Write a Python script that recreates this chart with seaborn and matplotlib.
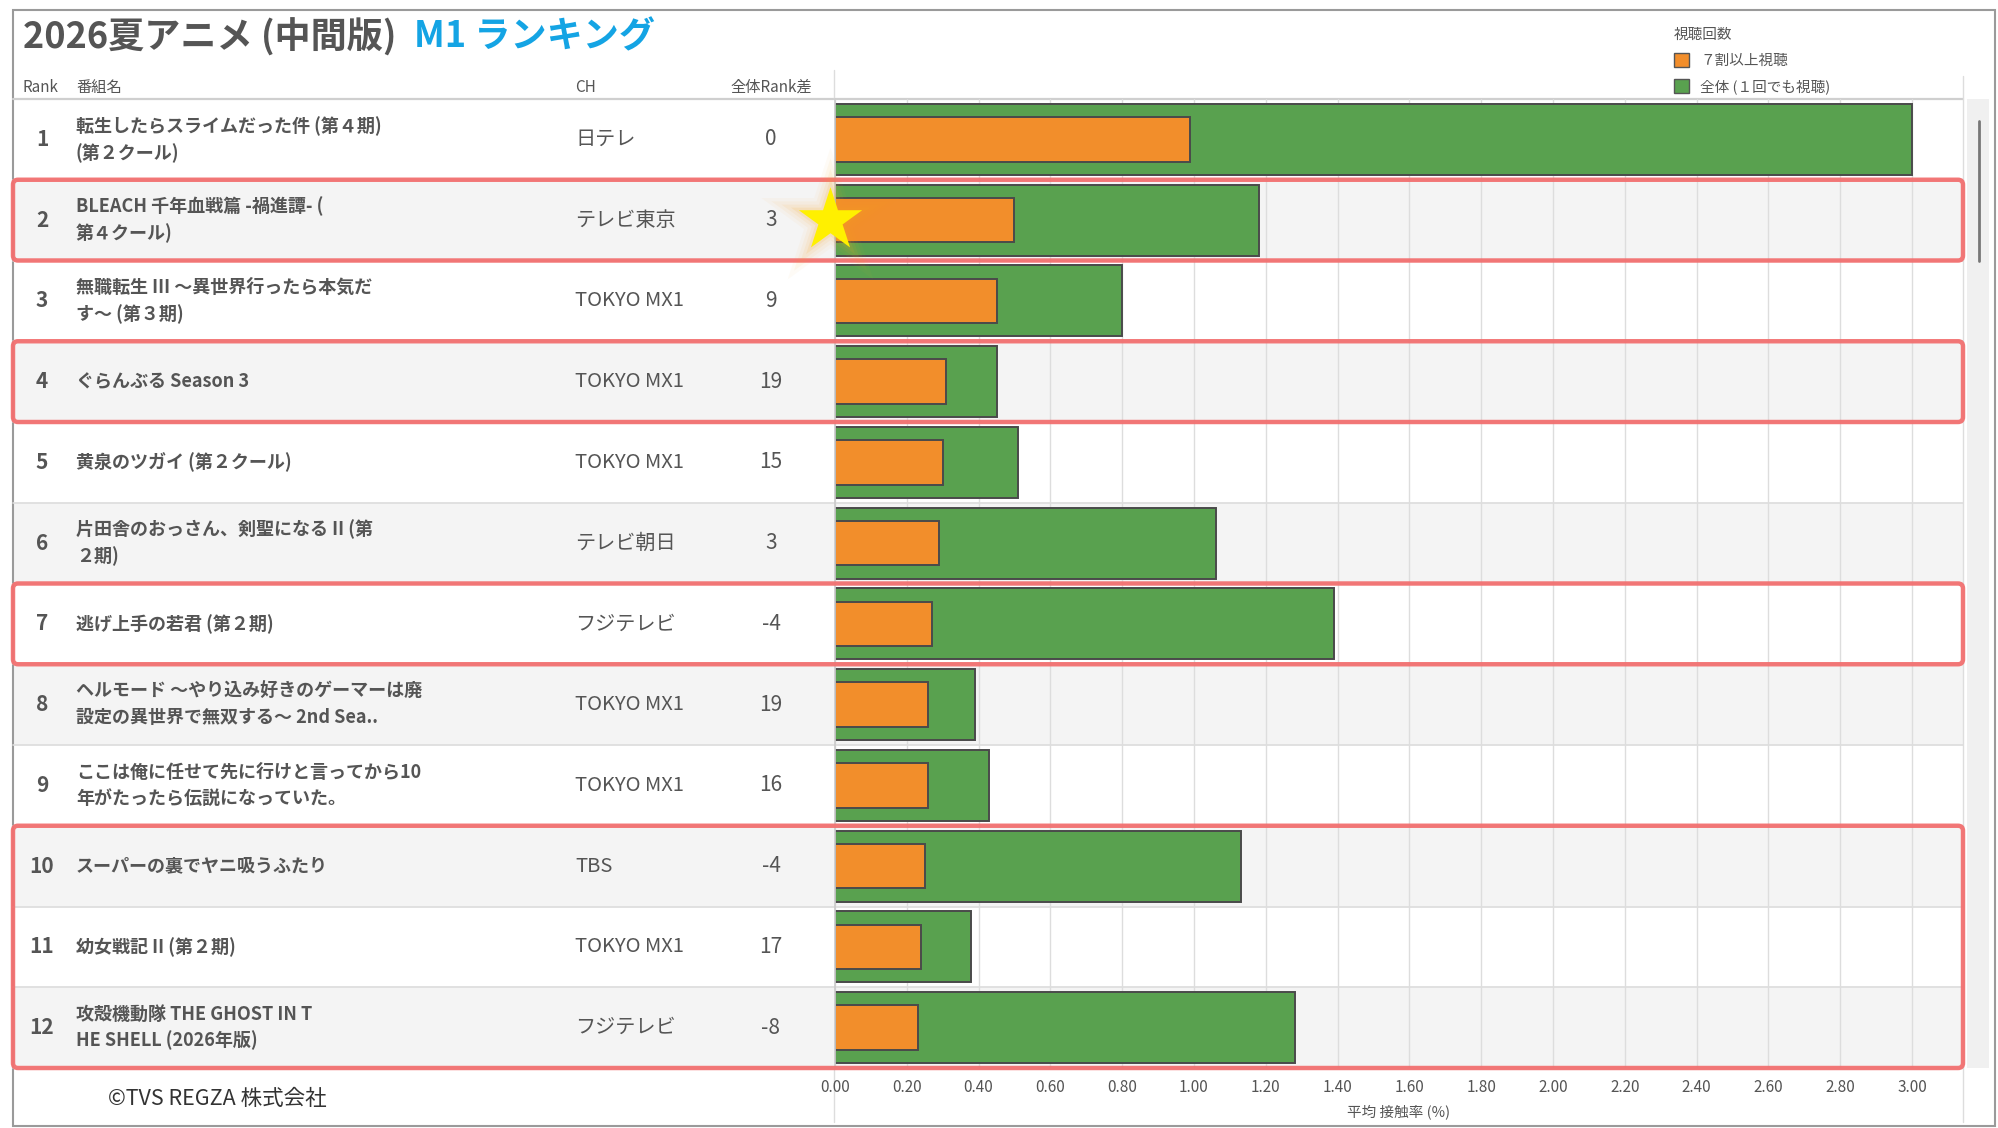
import numpy as np
import pandas as pd
import matplotlib
matplotlib.use("Agg")
import matplotlib.pyplot as plt
import seaborn as sns
from matplotlib.patches import Rectangle, FancyBboxPatch, Patch

# data
ranks = [1, 2, 3, 4, 5, 6, 7, 8, 9, 10, 11, 12]
titles = [
    "転生したらスライムだった件 (第４期)\n(第２クール)",
    "BLEACH 千年血戦篇 -禍進譚- (\n第４クール)",
    "無職転生 III ～異世界行ったら本気だ\nす～ (第３期)",
    "ぐらんぶる Season 3",
    "黄泉のツガイ (第２クール)",
    "片田舎のおっさん、剣聖になる II (第\n２期)",
    "逃げ上手の若君 (第２期)",
    "ヘルモード ～やり込み好きのゲーマーは廃\n設定の異世界で無双する～ 2nd Sea..",
    "ここは俺に任せて先に行けと言ってから10\n年がたったら伝説になっていた。",
    "スーパーの裏でヤニ吸うふたり",
    "幼女戦記 II (第２期)",
    "攻殻機動隊 THE GHOST IN T\nHE SHELL (2026年版)",
]
channels = ["日テレ", "テレビ東京", "TOKYO MX1", "TOKYO MX1", "TOKYO MX1", "テレビ朝日",
            "フジテレビ", "TOKYO MX1", "TOKYO MX1", "TBS", "TOKYO MX1", "フジテレビ"]
rank_diff = [0, 3, 9, 19, 15, 3, -4, 19, 16, -4, 17, -8]
total_rate = [3.00, 1.18, 0.80, 0.45, 0.51, 1.06, 1.39, 0.39, 0.43, 1.13, 0.38, 1.28]
heavy_rate = [0.99, 0.50, 0.45, 0.31, 0.30, 0.29, 0.27, 0.26, 0.26, 0.25, 0.24, 0.23]
highlight_groups = [(2, 2), (4, 4), (7, 7), (10, 12)]
star_rank = 2
x_ticks = [0.0, 0.2, 0.4, 0.6, 0.8, 1.0, 1.2, 1.4, 1.6, 1.8, 2.0, 2.2, 2.4, 2.6, 2.8, 3.0]

df = pd.DataFrame({"rank": [str(r) for r in ranks], "total": total_rate, "heavy": heavy_rate})
order = [str(r) for r in ranks]

sns.set_theme(style="white")
plt.rcParams["font.family"] = ["Noto Sans CJK JP", "DejaVu Sans"]

W, H = 1999, 1128
fig = plt.figure(figsize=(W / 100, H / 100), dpi=100)
fig.patch.set_facecolor("white")

ORANGE = "#F28E2B"
GREEN = "#59A14F"
GRAY_TXT = "#555555"
RED = "#F27070"

# layout in pixels
left, right = 13, 1963
bar_x0 = 835
x_unit = (1912 - 835) / 3.0
row_top, row_h = 99, 80.75
n = len(ranks)
row_bot = row_top + n * row_h

# background layer
bg = fig.add_axes([0, 0, 1, 1], zorder=0)
bg.set_xlim(0, W)
bg.set_ylim(H, 0)
bg.axis("off")
for i in range(n):
    y0 = row_top + i * row_h
    if ranks[i] % 2 == 0:
        bg.add_patch(Rectangle((left, y0), right - left, row_h, color="#f4f4f4", lw=0))
    bg.plot([left, right], [y0 + row_h, y0 + row_h], color="#dcdcdc", lw=1.2)
bg.plot([left, right], [row_top, row_top], color="#cfcfcf", lw=1.6)
bg.plot([834, 834], [70, row_top], color="#dddddd", lw=1)
bg.plot([834, 834], [row_bot, 1122], color="#dddddd", lw=1)
bg.plot([right, right], [76, 1122], color="#dddddd", lw=1)
bg.add_patch(Rectangle((1967, row_top), 22, row_bot - row_top, color="#f0f0f0", lw=0))
bg.plot([1979, 1979], [121, 261], color="#777777", lw=2)
bg.add_patch(Rectangle((13, 10), 1982, 1116, fill=False, ec="#9a9a9a", lw=1.5))

# bar chart
ax = fig.add_axes([bar_x0 / W, 1 - row_bot / H, (right - bar_x0) / W, (row_bot - row_top) / H], zorder=1)
ax.set_facecolor("none")
sns.barplot(data=df, x="total", y="rank", order=order, orient="h", color=GREEN, saturation=1,
            width=0.88, edgecolor="#4a4a4a", linewidth=1.4, errorbar=None, ax=ax)
sns.barplot(data=df, x="heavy", y="rank", order=order, orient="h", color=ORANGE, saturation=1,
            width=0.55, edgecolor="#4a4a4a", linewidth=1.4, errorbar=None, ax=ax)
ax.set_xlim(0, (right - bar_x0) / x_unit)
ax.set_ylim(n - 0.5, -0.5)
ax.set_xticks(x_ticks)
ax.set_xticklabels([f"{t:.2f}" for t in x_ticks])
ax.set_yticks([])
ax.set_ylabel("")
ax.set_xlabel("平均 接触率 (%)", fontsize=10.5, color="#555555", labelpad=6)
ax.tick_params(axis="x", length=0, labelsize=11, colors="#555555", pad=8)
ax.xaxis.grid(True, color="#dddddd", lw=1)
ax.set_axisbelow(True)
for s in ["top", "right", "bottom"]:
    ax.spines[s].set_visible(False)
ax.spines["left"].set_color("#cccccc")

# overlay layer: table text, highlights, title, legend
top = fig.add_axes([0, 0, 1, 1], zorder=3)
top.set_facecolor("none")
top.set_xlim(0, W)
top.set_ylim(H, 0)
top.axis("off")

t1 = top.text(23, 37, "2026夏アニメ (中間版)", fontsize=26, fontweight="bold", color=GRAY_TXT, va="center")
renderer = fig.canvas.get_renderer()
t1_end = t1.get_window_extent(renderer).x1
top.text(max(412, t1_end + 18), 37, "M1 ランキング", fontsize=26, fontweight="bold",
         color="#14A4E4", va="center")

hdr_y = 87
top.text(23, hdr_y, "Rank", fontsize=11, color=GRAY_TXT, va="center")
top.text(76, hdr_y, "番組名", fontsize=11, color=GRAY_TXT, va="center")
top.text(575, hdr_y, "CH", fontsize=11, color=GRAY_TXT, va="center")
top.text(771, hdr_y, "全体Rank差", fontsize=11, color=GRAY_TXT, va="center", ha="center")

for i in range(n):
    yc = row_top + (i + 0.5) * row_h
    top.text(42, yc, str(ranks[i]), fontsize=15, fontweight="bold", color=GRAY_TXT, va="center", ha="center")
    top.text(76, yc, titles[i], fontsize=13, fontweight="bold", color=GRAY_TXT, va="center",
             ha="left", linespacing=1.45)
    top.text(575, yc, channels[i], fontsize=14.5, color=GRAY_TXT, va="center", ha="left")
    top.text(771, yc, str(rank_diff[i]), fontsize=15, color=GRAY_TXT, va="center", ha="center")

for a, b in highlight_groups:
    y0 = row_top + (a - 1) * row_h
    y1 = row_top + b * row_h
    top.add_patch(FancyBboxPatch((left, y0), right - left, y1 - y0,
                                 boxstyle="round,pad=0,rounding_size=5",
                                 fill=False, ec=RED, lw=3.2, alpha=0.95))

# star with glow
sy = row_top + (star_rank - 0.5) * row_h
for s, al in [(11000, 0.04), (8000, 0.06), (5500, 0.08), (3600, 0.12)]:
    top.scatter([830], [sy], s=s, marker="*", color="#F5A623", alpha=al, lw=0)
top.scatter([830], [sy], s=2300, marker="*", color="#FFF000", lw=0)

top.text(108, 1099, "©TVS REGZA 株式会社", fontsize=15.5, color="#333333", va="center")

handles = [Patch(facecolor=ORANGE, edgecolor="#555555", lw=1),
           Patch(facecolor=GREEN, edgecolor="#555555", lw=1)]
leg = fig.legend(handles, ["７割以上視聴", "全体 (１回でも視聴)"], title="視聴回数",
                 loc="upper left", bbox_to_anchor=(1664 / W, 1 - 18 / H), frameon=False,
                 fontsize=10.5, title_fontsize=10.5, alignment="left", handlelength=1.0,
                 handleheight=1.1, handletextpad=0.8, labelspacing=0.75, borderpad=0.2)
for t in leg.get_texts():
    t.set_color(GRAY_TXT)
leg.get_title().set_color(GRAY_TXT)

fig.savefig("out.png", dpi=100)
